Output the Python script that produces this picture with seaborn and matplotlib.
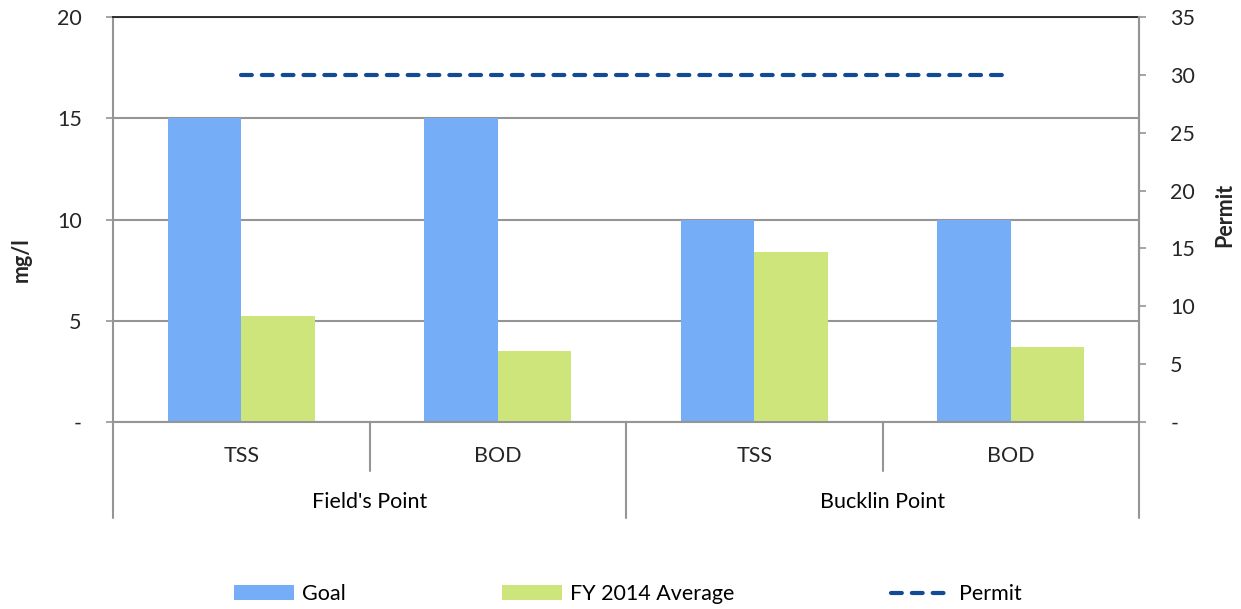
import matplotlib
matplotlib.use("Agg")
import matplotlib.pyplot as plt
import matplotlib.transforms as mtransforms
from matplotlib.lines import Line2D
from matplotlib.patches import Patch
import pandas as pd
import seaborn as sns

# ---- data ----
sites = ["Field's Point", "Field's Point", "Bucklin Point", "Bucklin Point"]
params = ["TSS", "BOD", "TSS", "BOD"]
goal = [15, 15, 10, 10]
fy2014_avg = [5.23, 3.52, 8.41, 3.72]
permit = [30, 30, 30, 30]
site_groups = ["Field's Point", "Bucklin Point"]
left_ticks = [0, 5, 10, 15, 20]
left_ticklabels = ["-", "5", "10", "15", "20"]
right_ticks = [0, 5, 10, 15, 20, 25, 30, 35]
right_ticklabels = ["-", "5", "10", "15", "20", "25", "30", "35"]
series_names = ["Goal", "FY 2014 Average", "Permit"]

GOAL_C = "#75ADF7"
AVG_C = "#CDE57B"
PERMIT_C = "#124A96"
AXIS_C = "#959595"
FONT = ["Lato", "DejaVu Sans"]
FS = 15.5

sns.set_theme(style="white")
plt.rcParams["font.family"] = FONT
plt.rcParams["text.color"] = "black"

keys = [f"{s}|{p}" for s, p in zip(sites, params)]
df = pd.DataFrame({
    "key": keys * 2,
    "series": [series_names[0]] * 4 + [series_names[1]] * 4,
    "value": goal + fy2014_avg,
})

fig = plt.figure(figsize=(12.41, 6.09), dpi=100)
ax = fig.add_axes([113 / 1241, 1 - 422 / 609, 1026 / 1241, 405 / 609])

sns.barplot(data=df, x="key", y="value", hue="series", order=keys,
            hue_order=series_names[:2], palette=[GOAL_C, AVG_C],
            width=0.573, saturation=1, linewidth=0, ax=ax, legend=False,
            errorbar=None)

ax.set_xlim(-0.5, 3.5)
ax.set_ylim(0, 20)
ax.set_yticks(left_ticks)
ax.set_yticklabels(left_ticklabels, fontsize=FS)
ax.yaxis.grid(True, color=AXIS_C, linewidth=1.5)
ax.set_axisbelow(True)
ax.tick_params(axis="y", direction="out", length=5, width=1.2, color=AXIS_C,
               pad=17.5, left=True)
ax.set_xticks(range(4))
ax.set_xticklabels(params, fontsize=FS)
ax.tick_params(axis="x", length=0, pad=17)
ax.set_xlabel("")
ax.set_ylabel("mg/l", fontsize=FS, fontweight="bold")
ax.yaxis.set_label_coords(-0.079, 0.40)

for side in ["left", "bottom", "right"]:
    ax.spines[side].set_color(AXIS_C)
    ax.spines[side].set_linewidth(1.5)
ax.spines["top"].set_color("#222222")
ax.spines["top"].set_linewidth(1.3)

# multi-level category axis: separators and group labels
trans = mtransforms.blended_transform_factory(ax.transData, ax.transAxes)
for xpos in [-0.5, 1.5, 3.5]:
    ax.add_line(Line2D([xpos, xpos], [0, -0.237], transform=trans,
                       color=AXIS_C, linewidth=1.5, clip_on=False))
for xpos in [0.5, 2.5]:
    ax.add_line(Line2D([xpos, xpos], [0, -0.12], transform=trans,
                       color=AXIS_C, linewidth=1.5, clip_on=False))
for i, name in enumerate(site_groups):
    ax.text(2 * i + 0.5, -0.197, name, transform=trans, ha="center",
            va="center", fontsize=FS)

# secondary axis with the permit line
ax2 = ax.twinx()
sns.lineplot(x=list(range(4)), y=permit, ax=ax2, color=PERMIT_C,
             linewidth=3, legend=False)
perm_line = ax2.lines[-1]
perm_line.set_dashes((2.6, 2.4))
perm_line.set_dash_capstyle("round")
ax2.set_ylim(0, 35)
ax2.set_xlim(-0.5, 3.5)
ax2.set_yticks(right_ticks)
ax2.set_yticklabels(right_ticklabels, fontsize=FS)
ax2.tick_params(axis="y", direction="out", length=5, width=1.2, color=AXIS_C,
                pad=17.5, right=True)
ax2.set_ylabel("Permit", fontsize=FS, fontweight="bold")
ax2.yaxis.set_label_coords(1.073, 0.511)
ax2.grid(False)
for side in ["left", "bottom", "top"]:
    ax2.spines[side].set_visible(False)
ax2.spines["right"].set_color(AXIS_C)
ax2.spines["right"].set_linewidth(1.5)

handles = [
    Patch(facecolor=GOAL_C, edgecolor="none", label=series_names[0]),
    Patch(facecolor=AVG_C, edgecolor="none", label=series_names[1]),
    Line2D([0], [0], color=PERMIT_C, linewidth=3, dashes=(2.6, 2.4),
           dash_capstyle="round", label=series_names[2]),
]
fig.legend(handles=handles, loc="center", bbox_to_anchor=(0.506, 0.0246),
           ncol=3, frameon=False, fontsize=FS, handlelength=2.8,
           handleheight=0.65, handletextpad=0.37, columnspacing=7.25)

fig.savefig("out.png", dpi=100)
